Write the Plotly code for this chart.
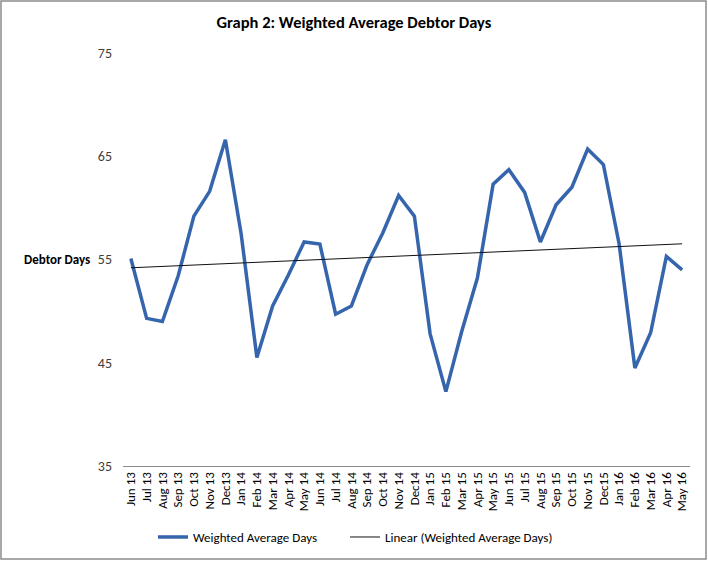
import numpy as np
import plotly.graph_objects as go

months = ["Jun 13", "Jul 13", "Aug 13", "Sep 13", "Oct 13", "Nov 13", "Dec13", "Jan 14",
          "Feb 14", "Mar 14", "Apr 14", "May 14", "Jun 14", "Jul 14", "Aug 14", "Sep 14",
          "Oct 14", "Nov 14", "Dec14", "Jan 15", "Feb 15", "Mar 15", "Apr 15", "May 15",
          "Jun 15", "Jul 15", "Aug 15", "Sep 15", "Oct 15", "Nov 15", "Dec15", "Jan 16",
          "Feb 16", "Mar 16", "Apr 16", "May 16"]
weighted_days = [55.1, 49.3, 49.0, 53.4, 59.2, 61.6, 66.6, 57.5,
                 45.5, 50.5, 53.5, 56.7, 56.5, 49.7, 50.5, 54.5,
                 57.6, 61.2, 59.2, 47.8, 42.2, 48.0, 53.2, 62.3,
                 63.7, 61.5, 56.7, 60.3, 62.0, 65.7, 64.2, 56.5,
                 44.5, 47.9, 55.3, 54.0]
y_ticks = [35, 45, 55, 65, 75]

idx = np.arange(len(weighted_days))
slope, intercept = np.polyfit(idx, weighted_days, 1)
trend = slope * idx + intercept

FONT = "Calibri, Carlito, Lato, sans-serif"

fig = go.Figure()
fig.add_trace(go.Scatter(x=idx, y=weighted_days, mode="lines", name="Weighted Average Days",
                         line=dict(color="#3565AC", width=3.5), legend="legend"))
fig.add_trace(go.Scatter(x=idx, y=trend, mode="lines", name="Linear (Weighted Average Days)",
                         line=dict(color="#111111", width=1), legend="legend2"))

legend_common = dict(orientation="h", xanchor="left", y=-0.172, yanchor="middle",
                     font=dict(family=FONT, size=13, color="#000000"), bgcolor="rgba(0,0,0,0)")

fig.update_layout(
    width=708, height=561,
    margin=dict(l=123, r=18, t=53, b=95, autoexpand=False),
    paper_bgcolor="white", plot_bgcolor="white",
    font=dict(family=FONT, size=13, color="#404040"),
    title=dict(text="<b>Graph 2: Weighted Average Debtor Days</b>", x=0.5, xref="container",
               y=1 - 22 / 561, yanchor="middle", font=dict(family=FONT, size=16.5, color="#000000")),
    xaxis=dict(range=[-0.5, len(months) - 0.5], tickvals=list(idx), ticktext=months,
               tickangle=-90, showgrid=False, zeroline=False, showline=True, automargin=False,
               linecolor="#8c8c8c", linewidth=1, ticks="", tickfont=dict(size=13, color="#000000")),
    yaxis=dict(range=[35, 75], tickvals=y_ticks, showgrid=False, zeroline=False, automargin=False,
               showline=False, ticks="", ticklabelstandoff=10,
               tickfont=dict(size=14, color="#404040")),
    legend=dict(x=(153 - 123) / 567, **legend_common),
    legend2=dict(x=(345 - 123) / 567, **legend_common),
    showlegend=True,
)

fig.add_annotation(text="<b>Debtor Days</b>", xref="paper", yref="y", x=(92 - 123) / 567, y=55,
                   xanchor="right", yanchor="middle", showarrow=False,
                   font=dict(family=FONT, size=13, color="#000000"))

fig.add_shape(type="rect", xref="paper", yref="paper",
              x0=(1 - 123) / 567, x1=(706 - 123) / 567,
              y0=(466 - 559) / 413, y1=(466 - 1) / 413,
              line=dict(color="#8c8c8c", width=1.5), fillcolor="rgba(0,0,0,0)", layer="below")

fig.write_html("out.html", config={"displayModeBar": False},
               post_script="document.body.style.margin='0';")
